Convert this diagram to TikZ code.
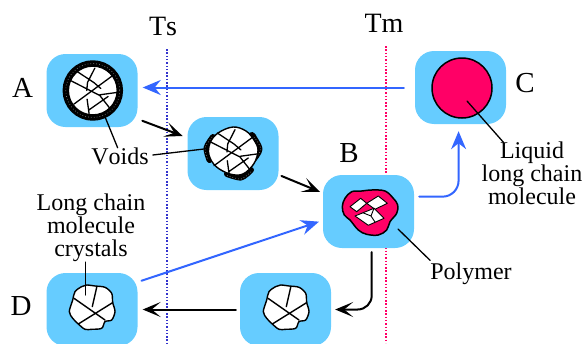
\documentclass[tikz,border=0pt]{standalone}
\usepackage{fontspec}
\setmainfont[Kerning=Off]{Liberation Serif}
\usetikzlibrary{arrows.meta}
\definecolor{cellblue}{HTML}{66CCFF}
\definecolor{meltred}{HTML}{FF0066}
\definecolor{flowblue}{HTML}{3366FF}
\definecolor{dotblue}{HTML}{3333CC}
\tikzset{
	cell/.style={draw=none,fill=cellblue,rectangle,rounded corners=19pt,minimum width=91pt,minimum height=73pt,inner sep=0pt},
	letter/.style={inner sep=0pt,anchor=base,font=\fontsize{29}{29}\selectfont},
	lab/.style={inner sep=0pt,align=center,font=\fontsize{24}{23}\selectfont},
	leader/.style={line width=1.3pt},
	templine/.style={line width=2pt,line cap=butt,dash pattern=on 1.5pt off 1.8pt},
	flowk/.style={line width=2pt,-{Stealth[length=18pt,width=15pt,inset=9pt]}},
	flowb/.style={line width=2pt,flowblue,-{Stealth[length=18pt,width=15pt,inset=6pt]}},
	voidfill/.style={line width=6.5pt,black,line cap=butt},
	voidpatch/.style={line width=6pt,black},
	voiddots/.style={line width=.7pt,white!50!black,line cap=butt,dash pattern=on .7pt off 2.2pt},
	pics/cracks/.code={
		\draw[line width=1.3pt] (2,-22.3)--(-5.3,-8)--(-6,0) (-15.7,-19)--(1,-8)--(8,-2)
			(-22.3,-10)--(7,5) (22.7,-17)--(-19,13.7) (7,4.3)--(23.7,2)
			(-5.7,8.7)--(-3.7,23.3) (15.3,6)--(-3.7,19.3) (7,5)--(17,17.7);
	},
	pics/lump/.code={
		\draw[line width=1.4pt,fill=white] plot[smooth cycle,tension=.5] coordinates {(-17,-15.7)(-10.3,-20.7)(-5.3,-22.3)(3,-21.3)(13,-20)(19.7,-14)(20.7,-4.7)(23,4.3)(19.7,12.7)(13,14.3)(9.7,21)(-.3,22)(-7,22)(-13.7,16.7)(-19.3,11)(-22.7,4.3)(-19.3,-7.3)};
		\draw[line width=1.4pt] (4.7,-20)--(.3,-.7) (-18,-9)--(13,12.7) (20.7,-4.7)--(-13.7,16.7);
	}
}
\begin{document}
\begin{tikzpicture}[x=1pt,y=-1pt,line join=round,line cap=round]
	\clip (0,0) rectangle (584,343);
	% temperature lines
	\coordinate (tstop) at (166.5,49);
	\coordinate (tsend) at (166.5,343);
	\coordinate (tmtop) at (385.5,46);
	\coordinate (tmend) at (385.5,343);
	\draw[templine,dotblue] (tstop)--(tsend);
	\draw[templine,meltred] (tmtop)--(tmend);
	\node[letter,font=\fontsize{28}{28}\selectfont] (ts) at (163,35){Ts};
	\node[letter,font=\fontsize{28}{28}\selectfont] (tm) at (384,32){Tm};
	% cells
	\foreach \n/\x/\y in {a/92/90.5,v/233/153.5,b/368.5/211.5,c/460.5/87.5,d/92/309.5,e/285.5/309.5}{
		\node[cell] (\n) at (\x,\y){};}
	% arrows between cells
	\draw[flowb,shorten <=11pt,shorten >=5pt] (c.west)--(c.west-|a.east);
	\draw[flowk,shorten <=5pt,shorten >=5pt] (a.-32)--(v.161);
	\draw[flowk,shorten <=3pt,shorten >=3pt] (v.-25.5)--(b.158);
	\draw[flowb,shorten <=4pt,shorten >=4pt] (d.31)--(b.191.4);
	\draw[flowb,rounded corners=16pt,shorten <=5pt,shorten >=7pt] (b.18)-|(c.267);
	\draw[flowk,rounded corners=14pt,shorten <=4pt,shorten >=4pt] (b.275.5)|-(e.east);
	\draw[flowk,shorten <=4pt,shorten >=5pt] (e.west)--(d.east);
	% A, ring of voids
	\begin{scope}[shift={(92.8,90.5)}]
		\fill[white] (0,0) circle (26);
		\draw[voidfill] (0,0) circle (27);
		\draw[voiddots] (0,0) circle (27);
		\pic {cracks};
	\end{scope}
	% second cell, patches of voids
	\begin{scope}[shift={(233,152)}]
		\draw[voidpatch] plot[smooth] coordinates {(19,-17)(26.5,-3)(20,8)};
		\draw[voidpatch] plot[smooth] coordinates {(-6,22)(8,25.5)(18,18)};
		\draw[voidpatch] plot[smooth] coordinates {(-20,-15)(-26.5,-4)(-23.5,8)};
		\draw[voiddots] plot[smooth] coordinates {(21,-15)(28,-3)(21,8)};
		\draw[voiddots] plot[smooth] coordinates {(-6,23.5)(8,27)(19,19)};
		\draw[voiddots] plot[smooth] coordinates {(-21,-15)(-28,-4)(-25,8)};
		\draw[line width=1.4pt,fill=white] plot[smooth cycle,tension=.6] coordinates {(0,-25)(13,-21)(21,-12)(25,-2)(21,11.5)(10,22)(-3,22)(-17,14.5)(-24,3)(-23,-9)(-15,-19)};
		\pic {cracks};
	\end{scope}
	% B, melting grain
	\draw[line width=1.5pt,fill=meltred] plot[smooth cycle,tension=.6] coordinates {(342.3,206.7)(345,198.3)(351.7,191.7)(361.7,191)(371.7,190)(385,191)(393.3,198.3)(397.7,205)(396.7,213.3)(390,221.7)(386.7,230)(378.3,235)(366.7,234.3)(358.3,230)(350,220)(344.3,215)};
	\draw[line width=.9pt,fill=white] (350,206.7)--(360.7,198.3)--(366.7,203.3)--(356.7,211.7)--cycle;
	\draw[line width=.9pt,fill=white] (366.7,203.3)--(378.3,196)--(387.3,203.3)--(375,209.3)--cycle;
	\draw[line width=.9pt,fill=white] (355,216)--(374,208.3)--(384,218.3)--(368.3,225.3)--cycle;
	\draw[line width=.9pt] (363,212.8)--(371,216)--(375,222) (371,216)--(374,208.3);
	% C, liquid
	\draw[line width=1.5pt,fill=meltred] (462,88) circle (30);
	% lower grains
	\foreach \x in {92,286}{
		\begin{scope}[shift={(\x,307.3)}]
			\pic {lump};
		\end{scope}}
	% letters
	\node[letter] (la) at (22.5,97){A};
	\node[letter] (lb) at (349,162){B};
	\node[letter] (lc) at (525,92){C};
	\node[letter] (ld) at (21,315){D};
	% labels and their leaders
	\node[lab] (voids) at (120,156.5){Voids};
	\node[lab] (liquid) at (532,173){Liquid\\long chain\\molecule};
	\node[lab] (poly) at (471,273.5){Polymer};
	\node[lab] (crys) at (91,228){Long chain\\molecule\\crystals};
	\coordinate (voida) at (105.5,118);
	\coordinate (voidb) at (204,149);
	\coordinate (melt) at (467,101);
	\coordinate (polyb) at (398,229);
	\coordinate (grain) at (85.5,295);
	\draw[leader] (voids.105)--(voida);
	\draw[leader] (voids.east)++(4,-1.5)--(voidb);
	\draw[leader] (liquid.north west)++(22,1)--(melt);
	\draw[leader] (poly.north west)++(0,-2)--(polyb);
	\draw[leader] (crys.south)++(-5.5,0)--(grain);
\end{tikzpicture}
\end{document}
